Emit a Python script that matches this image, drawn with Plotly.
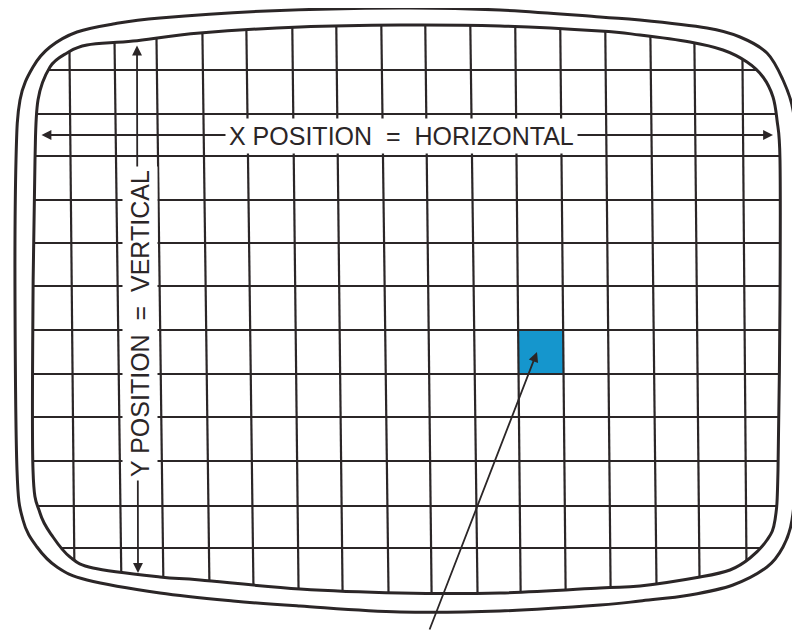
import plotly.graph_objects as go

W, H = 800, 631
OFF = 8  # page margin of the html body
ink = "#2b2627"

# grid lines of the screen (x at top edge / bottom edge, y of horizontal lines)
vgrid_top = [69, 114, 156, 202, 246, 292, 336, 381, 425, 470, 515, 560, 605, 650, 694, 742]
vgrid_bot = [75, 122, 164, 210, 254, 299, 343, 389, 432, 478, 521, 566, 611, 657, 700, 747]
hgrid = [70, 114, 156, 200, 243, 286, 330, 374, 417, 461, 506, 548]

# highlighted pixel: column between vgrid 10/11, row between hgrid 6/7
pix_col = 10
pix_row = 6
pix_color = "#1596cd"

# outline of the tube face (inner) and cabinet (outer)
inner_pts = [(38, 100), (50, 67), (67, 53), (87, 45), (133, 41), (200, 33), (300, 27),
             (400, 25), (500, 26), (600, 31), (640, 35), (690, 42), (723, 50), (747, 62),
             (763, 77), (773, 97), (777, 120), (780, 160), (780, 300), (778, 470),
             (775, 520), (767, 540), (750, 558), (730, 570), (700, 577), (640, 586),
             (600, 588), (500, 593), (400, 593), (300, 589), (200, 580), (160, 577),
             (93, 568), (70, 557), (53, 537), (40, 513), (33, 470), (33, 300), (35, 160)]
outer_pts = [(20, 100), (33, 67), (50, 47), (77, 32), (113, 24), (160, 18), (267, 11),
             (400, 8), (500, 10), (600, 17), (640, 20), (707, 28), (740, 37), (767, 53),
             (783, 80), (793, 110), (797, 160), (797, 300), (795, 470), (792, 520),
             (783, 547), (767, 567), (733, 585), (690, 595), (640, 601), (600, 605),
             (500, 611), (400, 612), (300, 606), (233, 601), (160, 593), (87, 580),
             (57, 567), (37, 547), (23, 520), (17, 470), (15, 300), (16, 160)]

x_label = "X POSITION\u00a0 =\u00a0 HORIZONTAL"
y_label = "Y POSITION\u00a0 =\u00a0 VERTICAL"


def smooth_path(pts):
    # closed Catmull-Rom spline as cubic bezier path
    n = len(pts)
    d = "M%.1f,%.1f" % pts[0]
    for i in range(n):
        p0 = pts[i - 1]
        p1 = pts[i]
        p2 = pts[(i + 1) % n]
        p3 = pts[(i + 2) % n]
        c1 = (p1[0] + (p2[0] - p0[0]) / 6, p1[1] + (p2[1] - p0[1]) / 6)
        c2 = (p2[0] - (p3[0] - p1[0]) / 6, p2[1] - (p3[1] - p1[1]) / 6)
        d += " C%.1f,%.1f %.1f,%.1f %.1f,%.1f" % (c1 + c2 + p2)
    return d + " Z"


gx, gy = [], []
for xt, xb in zip(vgrid_top, vgrid_bot):
    gx += [xt, xb, None]
    gy += [0, H, None]
for y in hgrid:
    gx += [0, W, None]
    gy += [y, y, None]

fig = go.Figure()
fig.add_trace(go.Scatter(x=gx, y=gy, mode="lines", line=dict(color=ink, width=2.2),
                         hoverinfo="skip", showlegend=False))

# blue pixel
fy0, fy1 = hgrid[pix_row], hgrid[pix_row + 1]
fx0 = vgrid_top[pix_col] + (vgrid_bot[pix_col] - vgrid_top[pix_col]) * fy0 / H
fx1 = vgrid_top[pix_col + 1] + (vgrid_bot[pix_col + 1] - vgrid_top[pix_col + 1]) * fy0 / H
fig.add_shape(type="rect", x0=fx0, x1=fx1, y0=fy0, y1=fy1, layer="below",
              fillcolor=pix_color, line=dict(width=0))

# white mask outside the tube face
fig.add_shape(type="path", path="M-20,-20 L%d,-20 L%d,%d L-20,%d Z " % (W + 20, W + 20, H + 20, H + 20)
              + smooth_path(inner_pts),
              fillcolor="white", fillrule="evenodd", line=dict(width=0), layer="above")
fig.add_shape(type="path", path=smooth_path(inner_pts), line=dict(color=ink, width=3), layer="above")
fig.add_shape(type="path", path=smooth_path(outer_pts), line=dict(color=ink, width=3), layer="above")

arrow = dict(text="", showarrow=True, axref="x", ayref="y", xref="x", yref="y",
             arrowcolor=ink, arrowhead=2, arrowsize=1.1, arrowwidth=1.8, standoff=0, startstandoff=0)
fig.add_annotation(x=773, y=135, ax=40, ay=135, arrowside="end+start", startarrowhead=2,
                   startarrowsize=1.1, **arrow)
fig.add_annotation(x=138, y=573, ax=137, ay=44, arrowside="end+start", startarrowhead=2,
                   startarrowsize=1.1, **arrow)
fig.add_annotation(x=537, y=352, ax=429, ay=H, **arrow)

lab = dict(showarrow=False, xref="x", yref="y", bgcolor="white", borderpad=3,
           font=dict(family="Liberation Sans, Arial, sans-serif", size=25, color=ink))
fig.add_annotation(x=401, y=136, text=x_label, **lab)
fig.add_annotation(x=140, y=324, text=y_label, textangle=-90, **lab)

# the page body puts the figure 8px in from the corner, so shift the ranges to match
fig.update_xaxes(range=[OFF, W], visible=False, fixedrange=True)
fig.update_yaxes(range=[H, OFF], visible=False, fixedrange=True)
fig.update_layout(width=W - OFF, height=H - OFF, margin=dict(l=0, r=0, t=0, b=0),
                  paper_bgcolor="white", plot_bgcolor="white", showlegend=False)
fig.write_html("out.html")
